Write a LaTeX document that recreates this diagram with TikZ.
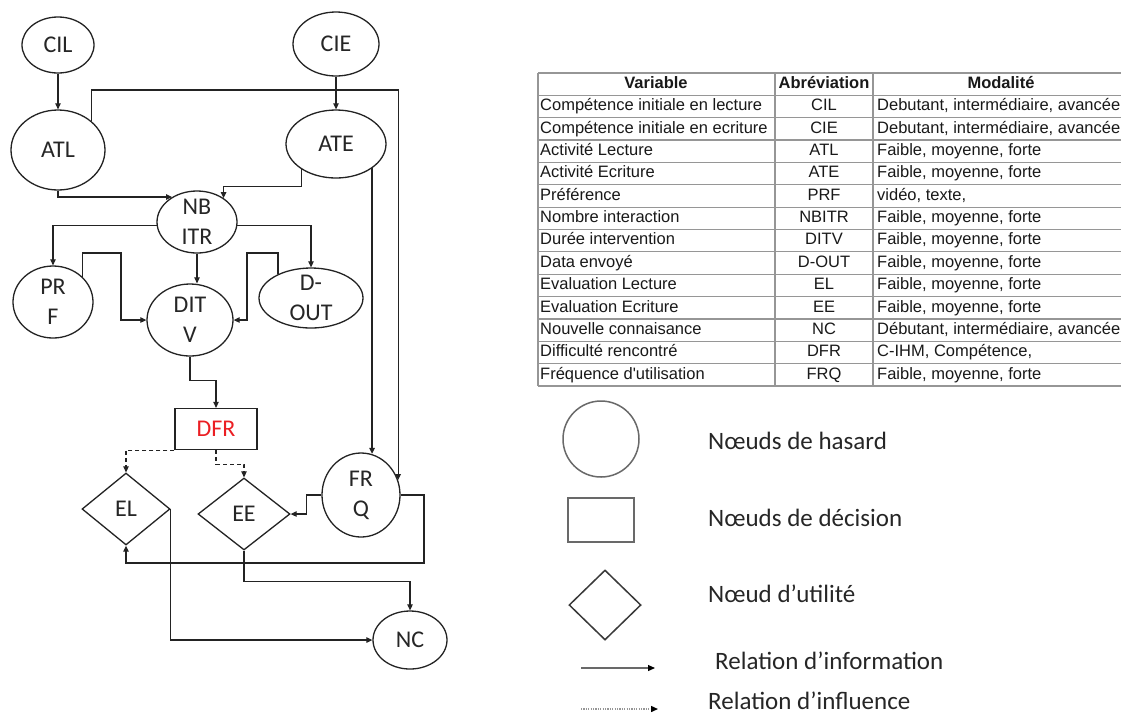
\documentclass[tikz,border=0pt]{standalone}
\usepackage{fontspec}
\newfontfamily\diagfont{Carlito}
\newfontfamily\tabfont{Liberation Sans}
\usetikzlibrary{shapes.geometric,arrows.meta}
\definecolor{linecol}{RGB}{35,35,35}
\definecolor{dfrred}{RGB}{235,30,35}
\definecolor{tabline}{RGB}{150,150,150}
\definecolor{legcol}{RGB}{105,105,105}
\begin{document}
\begin{tikzpicture}[x=1pt,y=-1pt,
  chn/.style={ellipse,draw=linecol,line width=1.3pt,inner sep=0pt},
  lbl/.style={font=\diagfont\fontsize{24}{30}\selectfont,align=center,text=black!85,inner sep=0pt},
  dec/.style={rectangle,draw=linecol,line width=1.3pt,inner sep=0pt,font=\diagfont\fontsize{24}{30}\selectfont,text=dfrred},
  util/.style={diamond,draw=linecol,line width=1.3pt,inner sep=0pt,font=\diagfont\fontsize{24}{30}\selectfont,text=black!85},
  arr/.style={draw=linecol,line width=1.2pt,-{Triangle[length=6pt,width=5.5pt]}},
  infl/.style={arr,dash pattern=on 4pt off 3pt},
  tabtxt/.style={font=\tabfont\fontsize{16.5}{19}\selectfont,inner sep=0pt,text height=12pt,text depth=3.5pt,text=black!90},
  tabhead/.style={tabtxt,font=\tabfont\bfseries\fontsize{16.5}{19}\selectfont},
  legtxt/.style={font=\diagfont\fontsize{25}{30}\selectfont,inner sep=0pt,anchor=west,text=black!85,text height=17pt,text depth=5pt},
  legshape/.style={draw=legcol,line width=1.5pt,inner sep=0pt}
]
\fill[white] (0,0) rectangle (1121,716);
\useasboundingbox (0,0) rectangle (1121,716);
\clip (0,0) rectangle (1121,716);

% ---------------- diagram nodes
\node[chn,minimum width=72,minimum height=56,label={[lbl]center:CIL}] (CIL) at (58,45) {};
\node[chn,minimum width=86,minimum height=64,label={[lbl]center:CIE}] (CIE) at (336,44) {};
\node[chn,minimum width=94,minimum height=80,label={[lbl]center:ATL}] (ATL) at (58,150) {};
\node[chn,minimum width=100,minimum height=68,label={[lbl]center:ATE}] (ATE) at (336,144) {};
\node[chn,minimum width=80,minimum height=62,label={[lbl]center:{NB\\ITR}}] (NB) at (197,222) {};
\node[chn,minimum width=80,minimum height=72,label={[lbl]center:{PR\\F}}] (PRF) at (53,302) {};
\node[chn,minimum width=86,minimum height=72,label={[lbl]center:{DIT\\V}}] (DITV) at (190,320) {};
\node[chn,minimum width=104,minimum height=60,label={[lbl]center:{D-\\OUT}}] (DOUT) at (311,298) {};
\node[dec,minimum width=82,minimum height=41] (DFR) at (216,429) {DFR};
\node[util,minimum width=88,minimum height=72] (EL) at (126,509) {EL};
\node[util,minimum width=92,minimum height=72] (EE) at (244,514) {EE};
\node[chn,minimum width=78,minimum height=84,label={[lbl]center:{FR\\Q}}] (FRQ) at (361,495) {};
\node[chn,minimum width=74,minimum height=58,label={[lbl]center:NC}] (NC) at (410,640) {};

% ---------------- connectors
\draw[arr] (CIL) -- (ATL);
\draw[arr] (CIE) -- (ATE);
\draw[arr] (ATL.north east) |- (FRQ.22 |- 0,90) -- (FRQ.22);
\draw[arr] (ATE.-34) -- (ATE.-34 |- FRQ.76);
\draw[arr] (ATL.south) |- (NB.135);
\draw[arr] (ATE.-144) -- ++(0,17) -| (NB.42);
\draw[arr] (NB.185) -| (PRF.north);
\draw[arr] (NB.south) -- (NB.south |- DITV.north);
\draw[arr] (NB.-5) -| (DOUT.north);
\draw[arr] (PRF.41) |- (121,253) |- (DITV.west);
\draw[arr] (DOUT.144) |- (247,253) |- (DITV.east);
\draw[arr] (DITV.south) -- ++(0,24) -| (DFR.north);
\draw[infl] (DFR.south west) -| (EL.north);
\draw[infl] (DFR.south) -- ++(0,14) -| (EE.north);
\draw[arr] (FRQ.west) -- ++(-15,0) |- (EE.east);
\draw[arr] (FRQ.east) -| (424,563) -| (EL.south);
\draw[arr] (EE.south) -- ++(0,31) -| (NC.north);
\draw[arr] (EL.east) |- (NC.west);

% ---------------- table
\foreach \k in {0,...,14}
  \draw[tabline,line width=1.2pt] (538,{73+\k*22.36}) -- (1140,{73+\k*22.36});
\foreach \xx in {538,775,873}
  \draw[tabline,line width=1.2pt] (\xx,73) -- (\xx,{73+14*22.36});
\node[tabhead] (hv) at (656,84.2) {Variable};
\node[tabhead] (ha) at (824,84.2) {Abréviation};
\node[tabhead] (hm) at (1001,84.2) {Modalité};
\foreach \va/\ab/\mo [count=\i] in {
  {Compétence initiale en lecture/CIL/Debutant, intermédiaire, avancée},
  {Compétence initiale en ecriture/CIE/Debutant, intermédiaire, avancée},
  {Activité Lecture/ATL/Faible, moyenne, forte},
  {Activité Ecriture/ATE/Faible, moyenne, forte},
  {Préférence/PRF/vidéo, texte,},
  {Nombre interaction/NBITR/Faible, moyenne, forte},
  {Durée intervention/DITV/Faible, moyenne, forte},
  {Data envoyé/D-OUT/Faible, moyenne, forte},
  {Evaluation Lecture/EL/Faible, moyenne, forte},
  {Evaluation Ecriture/EE/Faible, moyenne, forte},
  {Nouvelle connaisance/NC/Débutant, intermédiaire, avancée},
  {Difficulté rencontré/DFR/C-IHM, Compétence,},
  {Fréquence d'utilisation/FRQ/Faible, moyenne, forte}} {
  \node[tabtxt,anchor=west] (tv\i) at (540,{73+(\i+0.5)*22.36}) {\va};
  \node[tabtxt] (ta\i) at (824,{73+(\i+0.5)*22.36}) {\ab};
  \node[tabtxt,anchor=west] (tm\i) at (877,{73+(\i+0.5)*22.36}) {\mo};
}

% ---------------- legend
\node[legshape,circle,minimum size=76] (lc) at (601,439) {};
\node[legshape,rectangle,line width=1.8pt,minimum width=66,minimum height=44] (lr) at (601,520) {};
\node[legshape,diamond,draw=linecol!90,minimum width=72,minimum height=70] (ld) at (605,605) {};
\coordinate (ia) at (581,668);
\coordinate (ib) at (655,668);
\draw[legcol,line width=1.2pt,-{Triangle[length=7pt,width=6pt,fill=black,color=black]}] (ia) -- (ib);
\coordinate (fa) at (581,709);
\coordinate (fb) at (658,709);
\draw[legcol!70,line width=1.4pt,dash pattern=on 1.2pt off 1.2pt,-{Triangle[length=7pt,width=6pt,fill=black,color=black]}] (fa) -- (fb);
\node[legtxt] (t1) at (708,443) {Nœuds de hasard};
\node[legtxt] (t2) at (708,520) {Nœuds de décision};
\node[legtxt] (t3) at (708,596) {Nœud d’utilité};
\node[legtxt] (t4) at (715,663) {Relation d’information};
\node[legtxt] (t5) at (708,703) {Relation d’influence};
\end{tikzpicture}
\end{document}
